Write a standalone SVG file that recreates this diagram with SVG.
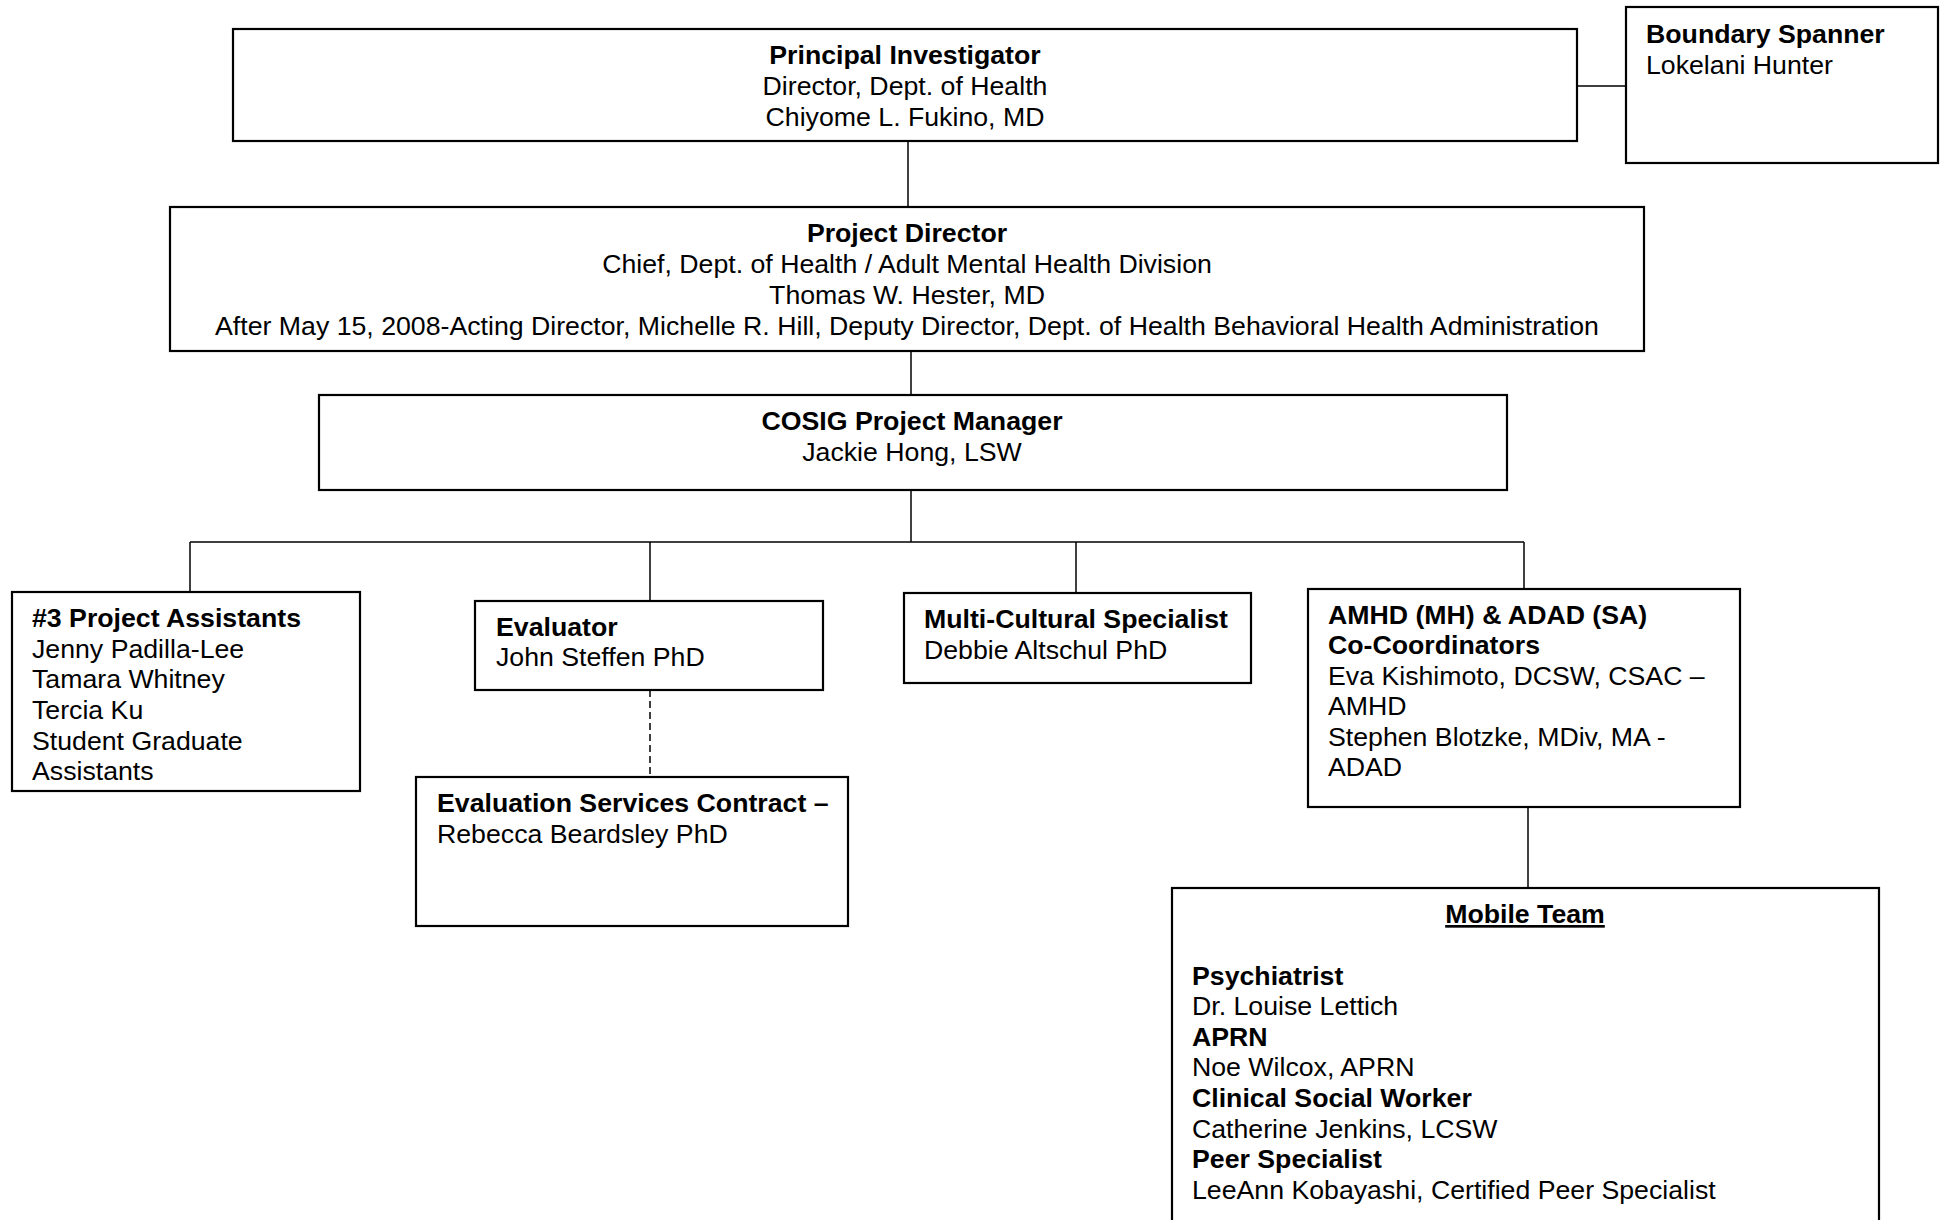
<svg xmlns="http://www.w3.org/2000/svg" width="1946" height="1220" viewBox="0 0 1946 1220">
<style>
  text { font-family: "Liberation Sans", Arial, sans-serif; font-size: 26.7px; fill: #000; }
  .b { font-weight: bold; }
  .c { text-anchor: middle; }
  .box { fill: #fff; stroke: #000; stroke-width: 2.2; }
  .ln { fill: none; stroke: #000; stroke-width: 1.5; }
  .dash { stroke-dasharray: 7 4; }
</style>
<rect width="1946" height="1220" fill="#fff"/>
<g id="connectors">
  <line class="ln" x1="1577" y1="86" x2="1626" y2="86"/>
  <line class="ln" x1="908" y1="141" x2="908" y2="207"/>
  <line class="ln" x1="911" y1="351" x2="911" y2="395"/>
  <line class="ln" x1="911" y1="490" x2="911" y2="542"/>
  <line class="ln" x1="190" y1="542" x2="1524" y2="542"/>
  <line class="ln" x1="190" y1="542" x2="190" y2="592"/>
  <line class="ln" x1="650" y1="542" x2="650" y2="601"/>
  <line class="ln" x1="1076" y1="542" x2="1076" y2="593"/>
  <line class="ln" x1="1524" y1="542" x2="1524" y2="589"/>
  <line class="ln dash" x1="650" y1="690" x2="650" y2="777"/>
  <line class="ln" x1="1528" y1="807" x2="1528" y2="888"/>
</g>
<g id="principal-investigator">
  <rect class="box" x="233" y="29" width="1344" height="112"/>
  <text class="b c" x="905" y="64">Principal Investigator</text>
  <text class="c" x="905" y="95">Director, Dept. of Health</text>
  <text class="c" x="905" y="126">Chiyome L. Fukino, MD</text>
</g>
<g id="boundary-spanner">
  <rect class="box" x="1626" y="7" width="312" height="156"/>
  <text class="b" x="1646" y="43">Boundary Spanner</text>
  <text x="1646" y="74">Lokelani Hunter</text>
</g>
<g id="project-director">
  <rect class="box" x="170" y="207" width="1474" height="144"/>
  <text class="b c" x="907" y="242">Project Director</text>
  <text class="c" x="907" y="273">Chief, Dept. of Health / Adult Mental Health Division</text>
  <text class="c" x="907" y="304">Thomas W. Hester, MD</text>
  <text class="c" x="907" y="335">After May 15, 2008-Acting Director, Michelle R. Hill, Deputy Director, Dept. of Health Behavioral Health Administration</text>
</g>
<g id="project-manager">
  <rect class="box" x="319" y="395" width="1188" height="95"/>
  <text class="b c" x="912" y="430">COSIG Project Manager</text>
  <text class="c" x="912" y="461">Jackie Hong, LSW</text>
</g>
<g id="project-assistants">
  <rect class="box" x="12" y="592" width="348" height="199"/>
  <text class="b" x="32" y="627">#3 Project Assistants</text>
  <text x="32" y="658">Jenny Padilla-Lee</text>
  <text x="32" y="688">Tamara Whitney</text>
  <text x="32" y="719">Tercia Ku</text>
  <text x="32" y="750">Student Graduate</text>
  <text x="32" y="780">Assistants</text>
</g>
<g id="evaluator">
  <rect class="box" x="475" y="601" width="348" height="89"/>
  <text class="b" x="496" y="636">Evaluator</text>
  <text x="496" y="666">John Steffen PhD</text>
</g>
<g id="evaluation-services">
  <rect class="box" x="416" y="777" width="432" height="149"/>
  <text class="b" x="437" y="812">Evaluation Services Contract –</text>
  <text x="437" y="843">Rebecca Beardsley PhD</text>
</g>
<g id="multi-cultural">
  <rect class="box" x="904" y="593" width="347" height="90"/>
  <text class="b" x="924" y="628">Multi-Cultural Specialist</text>
  <text x="924" y="659">Debbie Altschul PhD</text>
</g>
<g id="co-coordinators">
  <rect class="box" x="1308" y="589" width="432" height="218"/>
  <text class="b" x="1328" y="624">AMHD (MH) &amp; ADAD (SA)</text>
  <text class="b" x="1328" y="654">Co-Coordinators</text>
  <text x="1328" y="685">Eva Kishimoto, DCSW, CSAC –</text>
  <text x="1328" y="715">AMHD</text>
  <text x="1328" y="746">Stephen Blotzke, MDiv, MA -</text>
  <text x="1328" y="776">ADAD</text>
</g>
<g id="mobile-team">
  <rect class="box" x="1172" y="888" width="707" height="345"/>
  <text class="b c" x="1525" y="923" text-decoration="underline">Mobile Team</text>
  <text class="b" x="1192" y="985">Psychiatrist</text>
  <text x="1192" y="1015">Dr. Louise Lettich</text>
  <text class="b" x="1192" y="1046">APRN</text>
  <text x="1192" y="1076">Noe Wilcox, APRN</text>
  <text class="b" x="1192" y="1107">Clinical Social Worker</text>
  <text x="1192" y="1138">Catherine Jenkins, LCSW</text>
  <text class="b" x="1192" y="1168">Peer Specialist</text>
  <text x="1192" y="1199">LeeAnn Kobayashi, Certified Peer Specialist</text>
</g>
</svg>
